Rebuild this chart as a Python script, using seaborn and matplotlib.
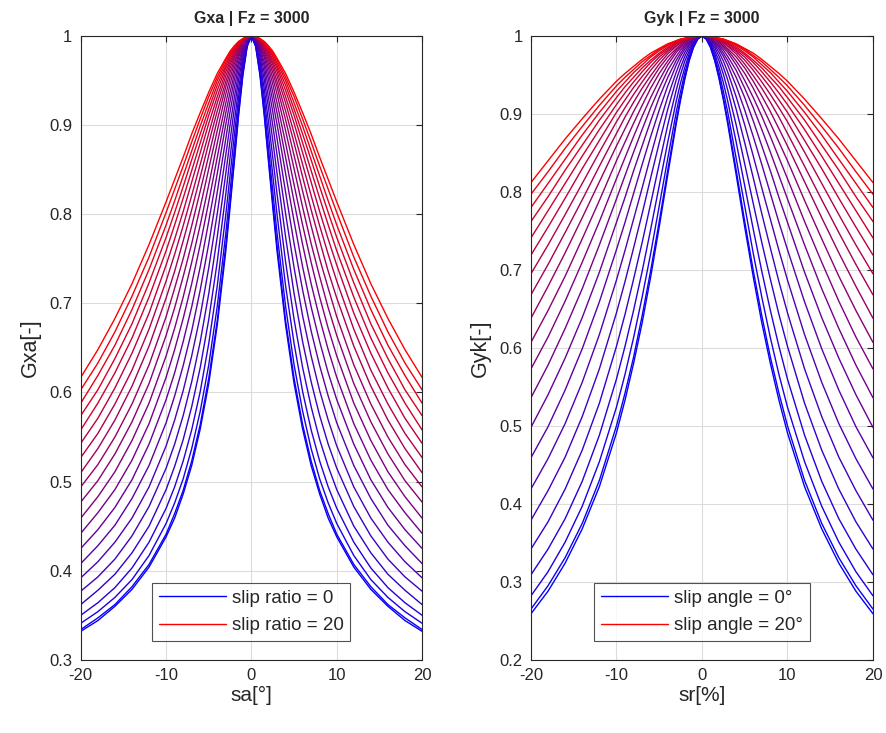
import numpy as np
import pandas as pd
import matplotlib
matplotlib.use("Agg")
import matplotlib.pyplot as plt
import seaborn as sns
from matplotlib.lines import Line2D

# Positive half of each slip axis; both weighting curves are even functions,
# so the negative half is the mirror image and the value at 0 is 1.
slip_half = [0.5, 1, 1.5, 2, 2.5, 3, 4, 5, 6, 7, 8, 9, 10, 12, 14, 16, 18, 20]

slip_ratios = list(range(21))   # one Gxa curve per slip ratio [%]
slip_angles = list(range(21))   # one Gyk curve per slip angle [deg]

# Gxa (x1000) over sa = slip_half, one row per slip ratio 0..20
gxa_rows = [
    [988, 956, 911, 859, 808, 759, 676, 610, 559, 518, 486, 459, 438, 404, 379, 360, 344, 332],
    [989, 958, 914, 863, 813, 765, 681, 616, 564, 523, 490, 464, 441, 407, 382, 362, 347, 334],
    [990, 962, 921, 874, 826, 779, 697, 631, 579, 537, 503, 476, 453, 417, 390, 370, 354, 341],
    [991, 967, 931, 889, 844, 800, 720, 655, 601, 558, 523, 494, 470, 432, 403, 381, 364, 350],
    [993, 972, 941, 904, 864, 823, 747, 682, 628, 584, 547, 517, 491, 450, 420, 396, 378, 362],
    [994, 977, 951, 919, 883, 846, 775, 711, 657, 612, 574, 542, 515, 472, 439, 413, 393, 377],
    [995, 981, 959, 931, 900, 867, 801, 740, 686, 641, 602, 569, 540, 494, 459, 432, 410, 392],
    [996, 984, 966, 942, 915, 885, 825, 767, 715, 669, 630, 596, 566, 518, 481, 451, 428, 408],
    [997, 987, 971, 951, 927, 901, 846, 792, 741, 696, 657, 622, 592, 542, 502, 471, 446, 425],
    [997, 989, 976, 958, 937, 914, 864, 814, 766, 722, 683, 648, 617, 565, 524, 491, 465, 442],
    [998, 990, 979, 964, 946, 925, 880, 833, 788, 746, 707, 672, 641, 588, 546, 511, 483, 459],
    [998, 992, 982, 969, 953, 935, 894, 851, 808, 767, 730, 695, 664, 610, 567, 531, 501, 477],
    [998, 993, 984, 973, 959, 943, 906, 866, 826, 787, 750, 717, 685, 631, 587, 550, 519, 494],
    [998, 994, 986, 976, 964, 949, 916, 880, 842, 805, 770, 736, 706, 652, 607, 569, 537, 510],
    [999, 995, 988, 979, 968, 955, 925, 891, 856, 821, 787, 755, 725, 671, 625, 587, 554, 527],
    [999, 995, 989, 981, 971, 960, 932, 902, 869, 836, 803, 772, 743, 689, 644, 605, 571, 543],
    [999, 996, 990, 983, 974, 964, 939, 911, 880, 849, 818, 788, 759, 707, 661, 622, 588, 558],
    [999, 996, 991, 985, 977, 967, 945, 918, 890, 861, 831, 802, 774, 723, 677, 638, 603, 574],
    [999, 997, 992, 986, 979, 970, 950, 925, 899, 871, 843, 815, 788, 738, 693, 653, 619, 588],
    [999, 997, 993, 988, 981, 973, 954, 932, 907, 881, 854, 828, 802, 752, 708, 668, 633, 603],
    [999, 997, 994, 989, 983, 975, 958, 937, 914, 890, 864, 839, 814, 766, 722, 683, 648, 617],
]

# Gyk (x1000) over sr = slip_half, one row per slip angle 0..20
gyk_rows = [
    [996, 985, 968, 945, 918, 888, 822, 755, 691, 632, 580, 533, 491, 422, 368, 324, 288, 259],
    [996, 986, 969, 947, 921, 892, 828, 762, 699, 641, 588, 542, 500, 430, 375, 331, 295, 265],
    [997, 988, 973, 953, 929, 903, 843, 782, 721, 665, 613, 566, 524, 454, 397, 351, 313, 282],
    [997, 990, 977, 960, 940, 917, 864, 808, 752, 698, 648, 602, 560, 488, 429, 381, 342, 309],
    [998, 992, 981, 968, 951, 931, 886, 836, 785, 735, 688, 643, 602, 529, 469, 419, 377, 342],
    [998, 993, 985, 974, 960, 944, 906, 863, 818, 772, 728, 685, 645, 573, 512, 460, 417, 379],
    [999, 995, 988, 979, 968, 954, 922, 886, 846, 805, 765, 725, 687, 617, 556, 503, 458, 419],
    [999, 996, 990, 983, 974, 963, 936, 905, 871, 835, 798, 761, 726, 659, 599, 546, 499, 459],
    [999, 996, 992, 986, 978, 969, 947, 921, 891, 859, 827, 793, 761, 697, 639, 587, 540, 498],
    [999, 997, 993, 988, 982, 974, 956, 933, 908, 880, 851, 821, 791, 732, 676, 625, 578, 536],
    [999, 998, 995, 990, 985, 979, 963, 943, 921, 897, 871, 844, 817, 762, 710, 660, 614, 573],
    [999, 998, 995, 992, 987, 982, 968, 952, 933, 911, 888, 864, 840, 789, 740, 692, 648, 607],
    [1000, 998, 996, 993, 989, 984, 973, 959, 942, 923, 903, 881, 859, 813, 767, 722, 679, 638],
    [1000, 998, 997, 994, 991, 987, 977, 964, 949, 933, 915, 896, 875, 833, 790, 748, 707, 668],
    [1000, 999, 997, 995, 992, 988, 980, 969, 956, 941, 925, 908, 890, 851, 811, 771, 732, 695],
    [1000, 999, 997, 995, 993, 990, 982, 973, 961, 948, 934, 918, 902, 866, 830, 792, 755, 719],
    [1000, 999, 998, 996, 994, 991, 984, 976, 966, 954, 941, 927, 912, 880, 846, 811, 776, 741],
    [1000, 999, 998, 996, 994, 992, 986, 978, 969, 959, 947, 935, 921, 892, 860, 828, 794, 762],
    [1000, 999, 998, 997, 995, 993, 988, 981, 973, 963, 953, 941, 929, 902, 873, 842, 811, 780],
    [1000, 999, 998, 997, 996, 994, 989, 983, 975, 967, 957, 947, 936, 911, 884, 856, 826, 797],
    [1000, 999, 999, 997, 996, 994, 990, 984, 978, 970, 961, 952, 942, 919, 894, 868, 840, 812],
]


def long_table(levels, rows):
    """Mirror each half curve about 0 and stack everything in long form."""
    xs = [-v for v in slip_half[::-1]] + [0.0] + list(slip_half)
    recs = []
    for lev, half in zip(levels, rows):
        vals = [v / 1000 for v in half]
        ys = vals[::-1] + [1.0] + vals
        recs += [(lev, xv, yv) for xv, yv in zip(xs, ys)]
    return pd.DataFrame(recs, columns=["level", "slip", "G"])


sns.set_theme(style="white")
plt.rcParams["font.family"] = ["Liberation Sans", "DejaVu Sans"]
plt.rcParams["axes.unicode_minus"] = False

# blue (level 0) to red (level 20)
palette = [(k / 20, 0.0, 1 - k / 20) for k in range(21)]

fig = plt.figure(figsize=(8.87, 7.33), dpi=100)
axL = fig.add_axes([0.0911, 0.0999, 0.3847, 0.851])
axR = fig.add_axes([0.5986, 0.0999, 0.3856, 0.851])

panels = [
    (axL, long_table(slip_ratios, gxa_rows), 0.3, "Gxa | Fz = 3000", "Gxa[-]", "sa[°]",
     ["slip ratio = 0", "slip ratio = 20"]),
    (axR, long_table(slip_angles, gyk_rows), 0.2, "Gyk | Fz = 3000", "Gyk[-]", "sr[%]",
     ["slip angle = 0°", "slip angle = 20°"]),
]

for ax, data, ylo, title, ylab, xlab, names in panels:
    sns.lineplot(data=data, x="slip", y="G", hue="level", palette=palette,
                 legend=False, ax=ax, lw=1.0, estimator=None, sort=False)
    ax.set_xlim(-20, 20)
    ax.set_ylim(ylo, 1)
    ax.set_xticks([-20, -10, 0, 10, 20])
    yt = np.round(np.arange(ylo, 1.0001, 0.1), 1)
    ax.set_yticks(yt)
    ax.set_yticklabels([("1" if v == 1 else f"{v:.1f}") for v in yt])
    ax.grid(True, color="#dcdcdc", lw=0.8)
    ax.set_axisbelow(True)
    for s in ax.spines.values():
        s.set_color("#262626")
        s.set_linewidth(0.8)
    ax.tick_params(direction="in", length=4, width=0.8, top=True, right=True,
                   labelsize=12, colors="#262626", pad=6)
    ax.set_title(title, fontsize=11.5, fontweight="bold", pad=9)
    ax.set_ylabel(ylab, fontsize=15.5, labelpad=6)
    ax.set_xlabel(xlab, fontsize=15, labelpad=2)
    handles = [Line2D([], [], color=palette[0], lw=1.0),
               Line2D([], [], color=palette[-1], lw=1.0)]
    leg = ax.legend(handles, names, loc="lower center", fontsize=13.5, frameon=True,
                    fancybox=False, edgecolor="#262626", handlelength=3.6,
                    handletextpad=0.3, borderaxespad=1.0, labelspacing=0.55,
                    borderpad=0.35)
    leg.get_frame().set_linewidth(0.8)

fig.savefig("out.png", dpi=100, facecolor="white")
